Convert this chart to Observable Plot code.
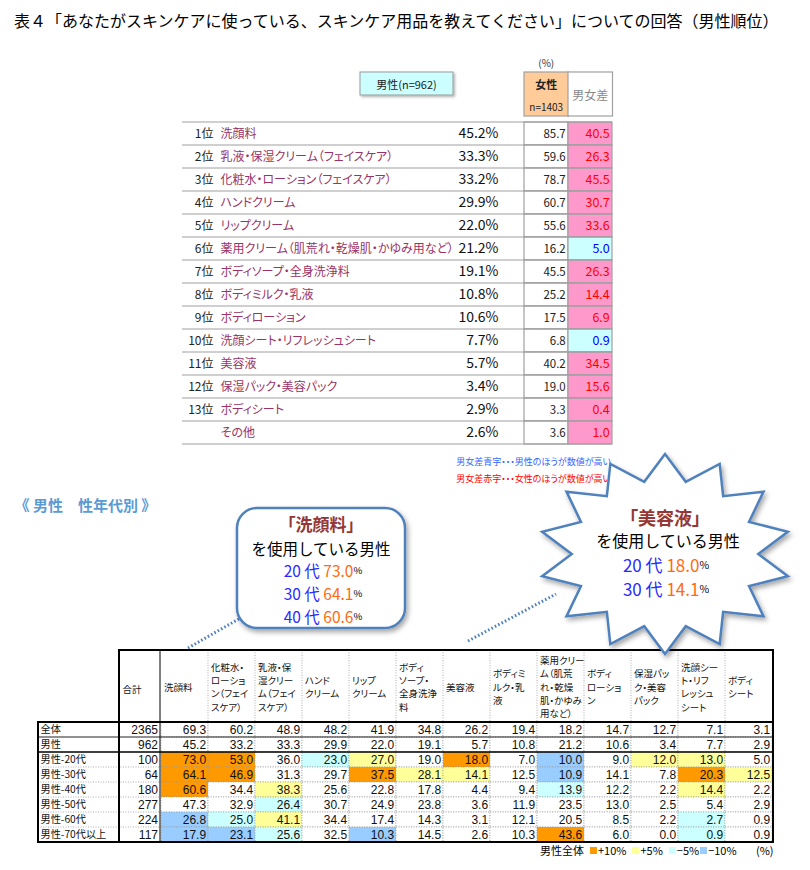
<!DOCTYPE html>
<html><head><meta charset="utf-8">
<script src="https://cdn.jsdelivr.net/npm/d3@7"></script>
<script src="https://cdn.jsdelivr.net/npm/@observablehq/plot@0.6"></script>
<style>
body{margin:0;background:#fff;}
#page{position:relative;width:810px;height:870px;overflow:hidden;font-family:"Noto Sans CJK JP","Noto Sans",sans-serif;color:#000;font-feature-settings:"palt";}
.abs{position:absolute;}
</style></head><body>
<div id="page">
  <div id="title" class="abs" style="left:14px;top:8px;font-size:16px;line-height:24px;font-feature-settings:normal;white-space:nowrap;color:#000"></div>
  <div id="topTable" class="abs" style="left:0;top:50px;width:810px"></div>
  <div id="notes" class="abs" style="right:199px;top:453px;font-size:9px;line-height:17px;text-align:right;white-space:nowrap"></div>
  <div id="section" class="abs" style="left:22px;top:494px;font-size:15px;line-height:22px;font-weight:bold;color:#5b9bd5;white-space:nowrap"></div>
  <div id="bottomTable" class="abs" style="left:0;top:640px;width:810px"></div>
  <div id="legend" class="abs" style="left:540px;top:843px;font-size:11px;line-height:14px;display:flex;align-items:center;white-space:nowrap"></div>
  <div id="unit" class="abs" style="left:756px;top:843px;font-size:11px;line-height:14px"></div>
  <svg id="callouts" class="abs" width="810" height="870" style="left:0;top:0;pointer-events:none;overflow:visible"></svg>
</div>
<script>
// ---------------- DATA ----------------
const titleText = "表４「あなたがスキンケアに使っている、スキンケア用品を教えてください」についての回答（男性順位）";
const topRanks = ["1位","2位","3位","4位","5位","6位","7位","8位","9位","10位","11位","12位","13位",""];
const topItems = ["洗顔料","乳液・保湿クリーム（フェイスケア）","化粧水・ローション（フェイスケア）","ハンドクリーム","リップクリーム","薬用クリーム（肌荒れ・乾燥肌・かゆみ用など）","ボディソープ・全身洗浄料","ボディミルク・乳液","ボディローション","洗顔シート・リフレッシュシート","美容液","保湿パック・美容パック","ボディシート","その他"];
const topMale = [45.2,33.3,33.2,29.9,22.0,21.2,19.1,10.8,10.6,7.7,5.7,3.4,2.9,2.6];
const topFemale = [85.7,59.6,78.7,60.7,55.6,16.2,45.5,25.2,17.5,6.8,40.2,19.0,3.3,3.6];
const topDiff = [40.5,26.3,45.5,30.7,33.6,-5.0,26.3,14.4,6.9,-0.9,34.5,15.6,0.4,1.0]; // 女性−男性
const topCols = ["女性","男女差"];
const maleHeader = "男性(n=962)";
const femaleHeader = ["女性","n=1403"];
const diffHeader = "男女差";
const notesText = ["男女差青字・・・男性のほうが数値が高い","男女差赤字・・・女性のほうが数値が高い"];
const sectionText = "《 男性　性年代別 》";

const rowLabels = ["全体","男性","男性-20代","男性-30代","男性-40代","男性-50代","男性-60代","男性-70代以上"];
const rowTotals = [2365,962,100,64,180,277,224,117];
const products = ["洗顔料","化粧水・ローション（フェイスケア）","乳液・保湿クリーム（フェイスケア）","ハンドクリーム","リップクリーム","ボディソープ・全身洗浄料","美容液","ボディミルク・乳液","薬用クリーム（肌荒れ・乾燥肌・かゆみ用など）","ボディローション","保湿パック・美容パック","洗顔シート・リフレッシュシート","ボディシート"];
const productHeaderLines = [["洗顔料"],["化粧水・","ローショ","ン（フェイ","スケア）"],["乳液・保","湿クリー","ム（フェイ","スケア）"],["ハンド","クリーム"],["リップ","クリーム"],["ボディ","ソープ・","全身洗浄","料"],["美容液"],["ボディミ","ルク・乳","液"],["薬用クリー","ム（肌荒","れ・乾燥","肌・かゆみ","用など）"],["ボディ","ローショ","ン"],["保湿パッ","ク・美容","パック"],["洗顔シー","ト・リフ","レッシュ","シート"],["ボディ","シート"]];
const totalHeader = "合計";
const valuesAll = [69.3,60.2,48.9,48.2,41.9,34.8,26.2,19.4,18.2,14.7,12.7,7.1,3.1];
const valuesMale = [45.2,33.2,33.3,29.9,22.0,19.1,5.7,10.8,21.2,10.6,3.4,7.7,2.9];
const values20s = [73.0,53.0,36.0,23.0,27.0,19.0,18.0,7.0,10.0,9.0,12.0,13.0,5.0];
const values30s = [64.1,46.9,31.3,29.7,37.5,28.1,14.1,12.5,10.9,14.1,7.8,20.3,12.5];
const values40s = [60.6,34.4,38.3,25.6,22.8,17.8,4.4,9.4,13.9,12.2,2.2,14.4,2.2];
const values50s = [47.3,32.9,26.4,30.7,24.9,23.8,3.6,11.9,23.5,13.0,2.5,5.4,2.9];
const values60s = [26.8,25.0,41.1,34.4,17.4,14.3,3.1,12.1,20.5,8.5,2.2,2.7,0.9];
const values70s = [17.9,23.1,25.6,32.5,10.3,14.5,2.6,10.3,43.6,6.0,0.0,0.9,0.9];
const levels = ["+10","+5","-5","-10","none"];
const legendTitle = "男性全体";
const legendLabels = ["+10%","+5%","−5%","−10%"];
const legendColors = ["#ff9900","#ffff99","#ccffff","#99ccff"];
const unitText = "(%)";
const ageLabels = ["20 代","30 代","40 代"];
const callout1Title = "「洗顔料」";
const callout2Title = "「美容液」";
const calloutSub = "を使用している男性";

// ---------------- LAYOUT ----------------
const LT = {svgTop:50, height:410, left:182, split:523, right:612, headerTop:72, rowsTop:116, rowsBottom:450, rankRight:213, nameLeft:220, pctRight:498};
const LB = {svgTop:640, height:230, labelLeft:38, totalLeft:119, prodLeft:160, right:773, headerTop:650, rowsTop:722, rowsBottom:842};
const FONT = '"Noto Sans CJK JP","Noto Sans",sans-serif';
const NUMFONT = '"Liberation Sans","DejaVu Sans",sans-serif';

document.getElementById("title").textContent = titleText;
document.getElementById("notes").innerHTML = `<div style="color:#3366ff">${notesText[0]}</div><div style="color:#ff0000">${notesText[1]}</div>`;
document.getElementById("section").textContent = sectionText;

// ---------------- TOP TABLE ----------------
const topRows = topItems.map((item,i)=>({item, rank:topRanks[i], male:topMale[i], female:topFemale[i], diff:topDiff[i]}));
const femaleCells = topRows.map(r=>({item:r.item, col:"女性", text:r.female.toFixed(1), fill:"#ffffff", color:"#222"}));
const diffCells = topRows.map(r=>({item:r.item, col:"男女差", text:Math.abs(r.diff).toFixed(1), fill:r.diff<0?"#ccffff":"#ff99cc", color:r.diff<0?"#0000ff":"#ff0000"}));
const bwT = (LT.right-LT.split)/topCols.length;

const topPlot = Plot.plot({
  width:810, height:LT.height,
  marginTop:LT.rowsTop-LT.svgTop, marginBottom:LT.height-(LT.rowsBottom-LT.svgTop),
  marginLeft:LT.split, marginRight:810-LT.right,
  style:{fontFamily:FONT, fontSize:"12px", background:"transparent", overflow:"visible"},
  x:{type:"band", domain:topCols, padding:0, axis:null},
  y:{type:"band", domain:topItems, padding:0},
  color:{type:"identity"},
  marks:[
    Plot.cell([...femaleCells,...diffCells], {x:"col", y:"item", fill:"fill", stroke:"#a0a0a0", strokeWidth:1.2}),
    Plot.text(femaleCells, {x:"col", y:"item", text:"text", fill:"color", textAnchor:"end", dx:bwT/2-3, fontSize:11.5}),
    Plot.text(diffCells, {x:"col", y:"item", text:"text", fill:"color", textAnchor:"end", dx:bwT/2-3, fontSize:12.5}),
    Plot.axisY({anchor:"left", tickSize:0, tickPadding:0, textAnchor:"start", dx:LT.nameLeft-LT.split, fill:"#993366", fontSize:12, label:null}),
    Plot.text(topRows, {y:"item", text:"rank", frameAnchor:"left", textAnchor:"end", dx:LT.rankRight-LT.split, fill:"#222", fontSize:12}),
    Plot.text(topRows, {y:"item", text:d=>d.male.toFixed(1)+"%", frameAnchor:"left", textAnchor:"end", dx:LT.pctRight-LT.split, fill:"#111", fontSize:14})
  ]
});
document.getElementById("topTable").appendChild(topPlot);
{
  const svg = d3.select(topPlot);
  const xs = topPlot.scale("x"), ys = topPlot.scale("y");
  const g = svg.append("g");
  const defs = svg.append("defs");
  defs.append("filter").attr("id","hshadow").attr("x","-10%").attr("y","-20%").attr("width","130%").attr("height","160%")
    .append("feDropShadow").attr("dx",1.5).attr("dy",1.5).attr("stdDeviation",1).attr("flood-opacity",0.3);
  const bounds = topItems.map(it=>ys.apply(it)).concat([ys.apply(topItems[topItems.length-1])+ys.bandwidth]);
  bounds.forEach(y=>g.append("line").attr("x1",LT.left).attr("x2",LT.right).attr("y1",y).attr("y2",y).attr("stroke","#a0a0a0").attr("stroke-width",1.2));
  const hy = LT.headerTop-LT.svgTop, hh = LT.rowsTop-LT.headerTop;
  g.append("text").attr("x",(xs.apply("女性")+bwT/2)).attr("y",hy-10).attr("text-anchor","middle").attr("dominant-baseline","central").style("font-size","10px").attr("fill","#333").text(unitText);
  g.append("rect").attr("x",360).attr("y",hy).attr("width",93).attr("height",23).attr("fill","#ccffff").attr("stroke","#999").attr("filter","url(#hshadow)");
  g.append("text").attr("x",406.5).attr("y",hy+11.5).attr("text-anchor","middle").attr("dominant-baseline","central").style("font-size","11px").attr("fill","#222").text(maleHeader);
  g.append("rect").attr("x",xs.apply("女性")).attr("y",hy).attr("width",bwT).attr("height",hh).attr("fill","#ffcc99").attr("stroke","#a0a0a0").attr("stroke-width",1.2);
  g.append("text").attr("x",xs.apply("女性")+bwT/2).attr("y",hy+12).attr("text-anchor","middle").attr("dominant-baseline","central").style("font-size","11px").style("font-weight","bold").attr("fill","#222").text(femaleHeader[0]);
  g.append("text").attr("x",xs.apply("女性")+bwT/2).attr("y",hy+34).attr("text-anchor","middle").attr("dominant-baseline","central").style("font-size","10px").attr("fill","#222").text(femaleHeader[1]);
  g.append("rect").attr("x",xs.apply("男女差")).attr("y",hy).attr("width",bwT).attr("height",hh).attr("fill","#ffffff").attr("stroke","#a0a0a0").attr("stroke-width",1.2);
  g.append("text").attr("x",xs.apply("男女差")+bwT/2).attr("y",hy+hh/2).attr("text-anchor","middle").attr("dominant-baseline","central").style("font-size","12px").attr("fill","#888").text(diffHeader);
}

// ---------------- BOTTOM TABLE ----------------
const rowValues = [valuesAll,valuesMale,values20s,values30s,values40s,values50s,values60s,values70s];
function levelOf(v, base, isAge){
  if(!isAge) return "none";
  const d = Math.round((v-base)*10)/10;
  return d>=10?"+10":d>=5?"+5":d<=-10?"-10":d<=-5?"-5":"none";
}
const cells = rowLabels.flatMap((row,r)=>products.map((p,i)=>({row, product:p, value:rowValues[r][i], level:levelOf(rowValues[r][i], valuesMale[i], r>=2)})));
const totals = rowLabels.map((row,r)=>({row, total:String(rowTotals[r])}));
const headerMap = new Map(products.map((p,i)=>[p, productHeaderLines[i].join("\n")]));
const bwB = (LB.right-LB.prodLeft)/products.length;
const mTop = LB.rowsTop-LB.svgTop;
const hCenter = ((LB.headerTop+LB.rowsTop)/2) - LB.svgTop;

const bottomPlot = Plot.plot({
  width:810, height:LB.height,
  marginTop:mTop, marginBottom:LB.height-(LB.rowsBottom-LB.svgTop),
  marginLeft:LB.prodLeft, marginRight:810-LB.right,
  style:{fontFamily:FONT, fontSize:"12px", background:"transparent", overflow:"visible"},
  x:{type:"band", domain:products, padding:0},
  y:{type:"band", domain:rowLabels, padding:0},
  color:{type:"ordinal", domain:levels, range:[...legendColors,"#ffffff"]},
  marks:[
    Plot.cell(cells, {x:"product", y:"row", fill:"level", stroke:"#9a9a9a", strokeWidth:0.8, strokeDasharray:"1,1.5"}),
    Plot.text(cells, {x:"product", y:"row", text:d=>d.value.toFixed(1), textAnchor:"end", dx:bwB/2-2.5, fill:"#111", fontSize:12, fontFamily:NUMFONT}),
    Plot.axisX({anchor:"top", tickSize:0, tickPadding:mTop-hCenter, tickFormat:p=>headerMap.get(p), textAnchor:"start", dx:-bwB/2+2.5, lineAnchor:"middle", lineHeight:1.4, fontSize:9.5, fill:"#111", label:null}),
    Plot.axisY({anchor:"left", tickSize:0, tickPadding:0, textAnchor:"start", dx:LB.labelLeft+2-LB.prodLeft, fontSize:10.2, fill:"#111", label:null}),
    Plot.text(totals, {y:"row", text:"total", frameAnchor:"left", textAnchor:"end", dx:-2.5, fill:"#111", fontSize:12, fontFamily:NUMFONT}),
    Plot.text([totalHeader], {frameAnchor:"top-left", text:d=>d, dx:LB.totalLeft+3-LB.prodLeft, dy:hCenter-mTop, textAnchor:"start", fontSize:9.5, fill:"#111"})
  ]
});
document.getElementById("bottomTable").appendChild(bottomPlot);
{
  const svg = d3.select(bottomPlot);
  const xs = bottomPlot.scale("x"), ys = bottomPlot.scale("y");
  const g = svg.append("g");
  const hTop = LB.headerTop-LB.svgTop, rTop = mTop, rBot = LB.rowsBottom-LB.svgTop;
  const X0 = LB.labelLeft, X1 = LB.totalLeft, X2 = LB.prodLeft, X3 = LB.right;
  const line = (x1,y1,x2,y2,stroke,w,dash)=>g.append("line").attr("x1",x1).attr("y1",y1).attr("x2",x2).attr("y2",y2).attr("stroke",stroke).attr("stroke-width",w).attr("stroke-dasharray",dash||null);
  products.slice(1).forEach(p=>line(xs.apply(p),hTop,xs.apply(p),rTop,"#9a9a9a",0.8,"1,1.5"));
  rowLabels.slice(3).forEach(r=>line(X0,ys.apply(r),X2,ys.apply(r),"#9a9a9a",0.8,"1,1.5"));
  line(X0,ys.apply("男性"),X3,ys.apply("男性"),"#222",1);
  line(X0,ys.apply("男性-20代"),X3,ys.apply("男性-20代"),"#000",1.5);
  line(X0,rTop,X3,rTop,"#000",2);
  line(X2,hTop,X2,rBot,"#000",1);
  g.append("rect").attr("x",X1).attr("y",hTop).attr("width",X3-X1).attr("height",rBot-hTop).attr("fill","none").attr("stroke","#000").attr("stroke-width",2);
  g.append("rect").attr("x",X0).attr("y",rTop).attr("width",X1-X0).attr("height",rBot-rTop).attr("fill","none").attr("stroke","#000").attr("stroke-width",2);
}

// legend
{
  const lg = d3.select("#legend");
  lg.append("span").text(legendTitle).style("margin-right","4px");
  legendLabels.forEach((l,i)=>{
    lg.append("span").style("display","inline-block").style("width","7px").style("height","7px").style("background",legendColors[i]).style("margin","0 1px 0 "+(i===0?"2px":(i===3?"1px":"6px")));
    lg.append("span").text(l);
  });
  d3.select("#unit").text(unitText);
}

// ---------------- CALLOUTS ----------------
{
  const c = d3.select("#callouts");
  const defs = c.append("defs");
  defs.append("filter").attr("id","cshadow").attr("x","-20%").attr("y","-20%").attr("width","140%").attr("height","140%")
    .append("feDropShadow").attr("dx",2).attr("dy",3).attr("stdDeviation",2.5).attr("flood-opacity",0.35);
  const blue = "#4f81bd";
  c.append("line").attr("x1",188).attr("y1",648).attr("x2",244).attr("y2",616).attr("stroke",blue).attr("stroke-width",3).attr("stroke-dasharray","1.6,2.2");
  c.append("line").attr("x1",468).attr("y1",641).attr("x2",556).attr("y2",594).attr("stroke",blue).attr("stroke-width",3).attr("stroke-dasharray","1.6,2.2");
  c.append("rect").attr("x",237).attr("y",508).attr("width",168).attr("height",120).attr("rx",20).attr("fill","#fff").attr("stroke",blue).attr("stroke-width",2.5).attr("filter","url(#cshadow)");
  const cx=665, cy=554, rx=126, ry=100, N=14, inner=0.74;
  const pts = d3.range(2*N).map(i=>{const a=-Math.PI/2+i*Math.PI/N; const k=i%2?inner:1; return [cx+rx*k*Math.cos(a), cy+ry*k*Math.sin(a)];});
  c.append("polygon").attr("points",pts.map(p=>p.join(",")).join(" ")).attr("fill","#fff").attr("stroke",blue).attr("stroke-width",2.5).attr("stroke-linejoin","miter").attr("filter","url(#cshadow)");

  const txt = (x,y,s,size,fill,weight)=>c.append("text").attr("x",x).attr("y",y).attr("text-anchor","middle").attr("dominant-baseline","central").style("font-size",size+"px").style("font-weight",weight||"normal").style("font-family",FONT).attr("fill",fill).text(s);
  function ageLine(x,y,label,v,size){
    const t = c.append("text").attr("x",x).attr("y",y).attr("text-anchor","middle").attr("dominant-baseline","central").style("font-size",size+"px").style("font-family",FONT).style("font-feature-settings","normal");
    t.append("tspan").attr("fill","#2a2aff").text(label+" ");
    t.append("tspan").attr("fill","#ff6a10").text(v.toFixed(1));
    t.append("tspan").attr("fill","#000").style("font-size",(size*0.62)+"px").text("%");
  }
  txt(321,523,callout1Title,17,"#953735","bold");
  txt(321,548,calloutSub,15.5,"#000").style("font-feature-settings","normal");
  const faceIdx = products.indexOf("洗顔料"), serumIdx = products.indexOf("美容液");
  [values20s,values30s,values40s].forEach((arr,i)=>ageLine(323,570+i*23,ageLabels[i],arr[faceIdx],15.5));
  txt(665,517,callout2Title,18,"#953735","bold");
  txt(668,540,calloutSub,16,"#000").style("font-feature-settings","normal");
  [values20s,values30s].forEach((arr,i)=>ageLine(666,564+i*24,ageLabels[i],arr[serumIdx],17));
}
</script>
</body></html>
